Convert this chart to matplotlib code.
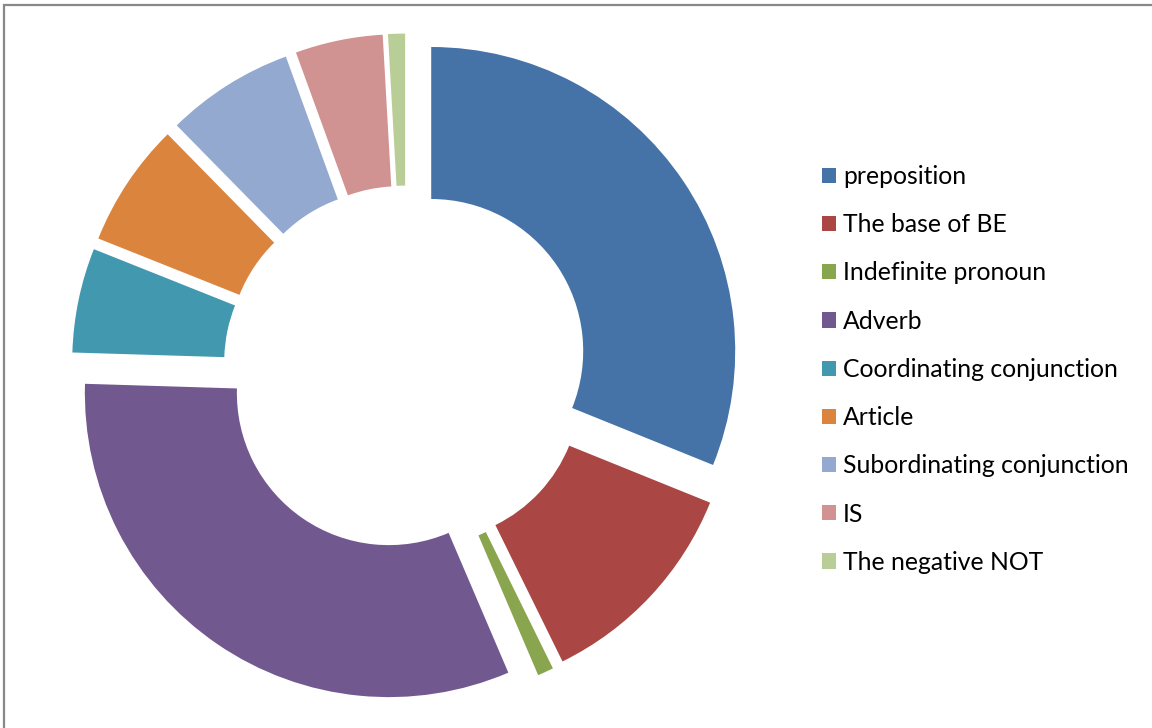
import matplotlib.pyplot as plt
from matplotlib.patches import Rectangle

# word class shares (%)
labels = ['preposition', 'The base of BE', 'Indefinite pronoun', 'Adverb',
          'Coordinating conjunction', 'Article', 'Subordinating conjunction',
          'IS', 'The negative NOT']
shares = [31.1, 11.6, 0.85, 31.9, 5.55, 6.6, 6.8, 4.65, 0.9]
colors = ['#4572A7', '#AA4643', '#89A54E', '#71588F', '#4198AF',
          '#DB843D', '#93A9CF', '#D19392', '#B9CD96']

W, H = 1152, 728
fig = plt.figure(figsize=(W / 100, H / 100), dpi=100)
ax = fig.add_axes([0, 0, 1, 1])

wedges, _ = ax.pie(shares, colors=colors, startangle=90, counterclock=False,
                   radius=1.0, explode=[0.1] * len(shares),
                   wedgeprops=dict(width=0.5, linewidth=0))

# place the ring: centre at (406, 368) px, outer radius 304 px
R = 304.0
cx, cy = 406.0, H - 368.0
ax.set_aspect('auto')
ax.set_xlim(-cx / R, (W - cx) / R)
ax.set_ylim(-cy / R, (H - cy) / R)
ax.axis('off')

leg = fig.legend(wedges, labels, loc='upper left',
                 bbox_to_anchor=(822 / W, 1 - 165 / H),
                 frameon=False, prop={'family': 'Lato', 'size': 17.8},
                 handlelength=0.57, handleheight=0.57, handletextpad=0.28,
                 labelspacing=1.02, borderaxespad=0, borderpad=0)

# chart area border (left and top edges show)
fig.patches.append(Rectangle((3.5 / W, -0.05), 1.1, 1 - 5.5 / H + 0.05,
                             transform=fig.transFigure, fill=False,
                             edgecolor='#888888', linewidth=1.6))

fig.savefig('out.png', dpi=100)
